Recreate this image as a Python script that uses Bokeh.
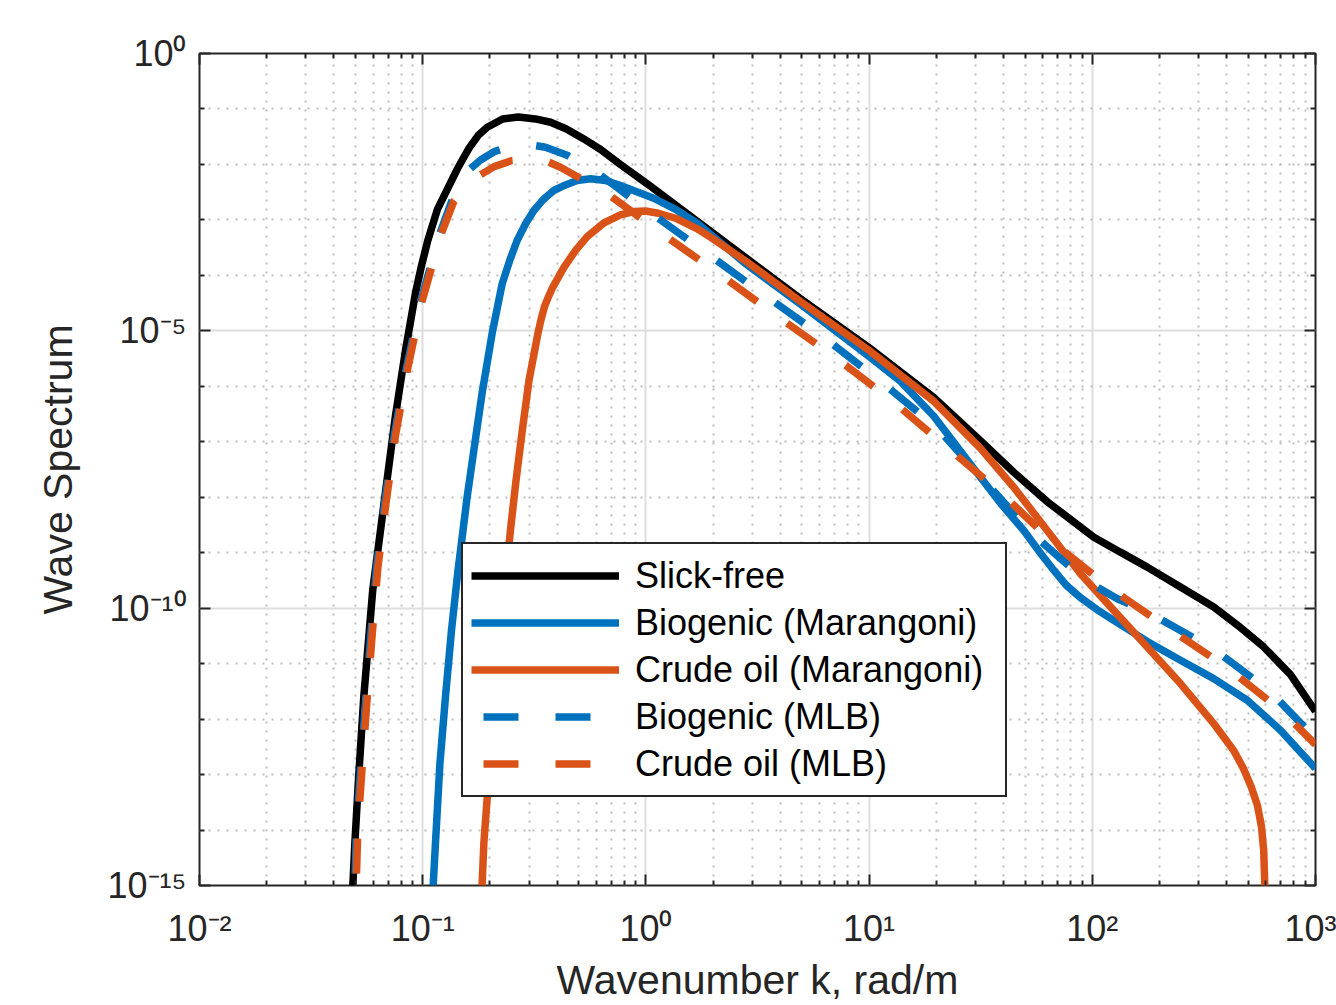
import numpy as np
from bokeh.plotting import figure
from bokeh.models import (FixedTicker, LogAxis, CustomJSTickFormatter, Legend,
                          LegendItem, Range1d)
from bokeh.embed import file_html
from bokeh.resources import INLINE

# ---- data: log10(k [rad/m]) and log10(wave spectrum) ----
slick_free_logk = [-1.313, -1.304, -1.288, -1.264, -1.224, -1.164, -1.122, -1.077,
                   -1.032, -1.005, -0.977, -0.934, -0.890, -0.842, -0.793, -0.752,
                   -0.711, -0.642, -0.571, -0.495, -0.427, -0.356, -0.278, -0.203,
                   -0.114, 0.006, 0.364, 0.693, 0.999, 1.290, 1.499, 1.648, 1.798,
                   2.007, 2.126, 2.246, 2.395, 2.544, 2.664, 2.768, 2.888, 3.0]
slick_free_logS = [-15.0, -14.24, -13.11, -11.60, -9.68, -7.82, -6.53, -5.35,
                   -4.31, -3.82, -3.37, -2.81, -2.45, -2.06, -1.71, -1.48,
                   -1.33, -1.18, -1.145, -1.18, -1.24, -1.36, -1.54, -1.73,
                   -2.00, -2.35, -3.431, -4.422, -5.30, -6.20, -6.98, -7.55, -8.08,
                   -8.72, -8.99, -9.26, -9.62, -9.98, -10.35, -10.70, -11.20, -11.86]

biogenic_mar_logk = [-0.953, -0.943, -0.923, -0.898, -0.871, -0.843, -0.801, -0.771,
                     -0.733, -0.689, -0.644, -0.61, -0.577, -0.539, -0.502, -0.459,
                     -0.413, -0.360, -0.308, -0.248, -0.181, -0.114, 0.035, 0.133,
                     0.230, 0.334, 0.450, 0.693, 0.999, 1.141, 1.290, 1.499, 1.589,
                     1.693, 1.768, 1.828, 1.884, 1.947, 2.019, 2.096, 2.246, 2.395,
                     2.544, 2.694, 2.843, 3.0]
biogenic_mar_logS = [-15.0, -14.25, -12.81, -11.60, -10.40, -9.36, -8.00, -7.157,
                     -6.10, -5.05, -4.152, -3.73, -3.371, -3.07, -2.830, -2.63,
                     -2.470, -2.37, -2.290, -2.259, -2.29, -2.38, -2.61, -2.81,
                     -3.06, -3.41, -3.80, -4.52, -5.46, -5.91, -6.54, -7.64, -8.11,
                     -8.60, -9.01, -9.32, -9.59, -9.81, -10.02, -10.22, -10.60, -10.94,
                     -11.27, -11.66, -12.20, -12.89]

crude_mar_logk = [-0.734, -0.726, -0.707, -0.689, -0.651, -0.607, -0.582, -0.554,
                  -0.524, -0.483, -0.470, -0.454, -0.436, -0.418, -0.368, -0.315,
                  -0.263, -0.190, -0.114, -0.054, -0.002, 0.056, 0.133, 0.230, 0.289,
                  0.450, 0.693, 0.999, 1.290, 1.499, 1.648, 1.798, 1.947, 2.096, 2.246,
                  2.395, 2.544, 2.634, 2.677, 2.713, 2.740, 2.758, 2.768, 2.773]
crude_mar_logS = [-15.0, -14.24, -13.20, -12.20, -10.40, -8.60, -7.70, -6.80,
                  -5.90, -5.03, -4.80, -4.56, -4.38, -4.22, -3.86, -3.55,
                  -3.30, -3.06, -2.91, -2.85, -2.84, -2.88, -2.97, -3.16, -3.31,
                  -3.75, -4.47, -5.35, -6.27, -7.12, -7.82, -8.60, -9.38, -10.04, -10.70,
                  -11.36, -12.08, -12.57, -12.89, -13.23, -13.56, -13.94, -14.37, -15.0]

biogenic_mlb_logk = [-1.304, -1.297, -1.277, -1.255, -1.232, -1.207, -1.170, -1.128,
                     -1.075, -1.012, -0.926, -0.845, -0.793, -0.741, -0.68, -0.60,
                     -0.53, -0.45, -0.35, -0.226, 0.038, 0.293, 0.551, 0.812, 1.059,
                     1.305, 1.469, 1.723, 1.969, 2.112, 2.261, 2.541, 2.791, 3.0]
biogenic_mlb_logS = [-15.0, -14.01, -12.84, -11.63, -10.46, -9.272, -8.089, -6.887,
                     -5.715, -4.513, -3.281, -2.38, -2.10, -1.92, -1.77, -1.67,
                     -1.64, -1.69, -1.84, -2.122, -2.921, -3.660, -4.411, -5.161, -5.937,
                     -6.751, -7.487, -8.63, -9.50, -9.83, -10.10, -10.73, -11.48, -12.35]

crude_mlb_logk = [-1.298, -1.291, -1.271, -1.249, -1.226, -1.201, -1.164, -1.122,
                  -1.069, -1.006, -0.920, -0.86, -0.80, -0.752, -0.68, -0.60, -0.495,
                  -0.44, -0.383, -0.177, 0.084, 0.338, 0.599, 0.857, 1.097, 1.355, 1.596,
                  1.813, 2.074, 2.332, 2.597, 2.854, 3.0]
crude_mlb_logS = [-15.0, -14.01, -12.84, -11.63, -10.46, -9.272, -8.089, -6.887,
                  -5.715, -4.513, -3.281, -2.66, -2.38, -2.214, -2.04, -1.93, -1.893,
                  -1.95, -2.05, -2.515, -3.281, -4.002, -4.768, -5.504, -6.24, -7.118, -7.938,
                  -8.78, -9.62, -10.34, -11.05, -11.87, -12.46]

series_labels = ["Slick-free", "Biogenic (Marangoni)", "Crude oil (Marangoni)",
                 "Biogenic (MLB)", "Crude oil (MLB)"]

x_major_ticks = [1e-2, 1e-1, 1e0, 1e1, 1e2, 1e3]
y_major_ticks = [1e-15, 1e-10, 1e-5, 1e0]
# -------------------------------------------------------------------------------

FONT = "Liberation Sans"
AX = "#262626"
BLUE = "#0072BD"
ORANGE = "#D95319"

x_minor_ticks = [m * 10.0 ** d for d in range(-2, 3) for m in range(2, 10)]
y_minor_ticks = [10.0 ** e for e in range(-15, 1) if e % 5 != 0]

xticker = FixedTicker(ticks=x_major_ticks, minor_ticks=x_minor_ticks)
yticker = FixedTicker(ticks=y_major_ticks, minor_ticks=y_minor_ticks)

sup_code = """
const e = Math.round(Math.log10(tick));
const sup = {"-": "\\u207b", "0": "\\u2070", "1": "\\u00b9", "2": "\\u00b2", "3": "\\u00b3",
             "4": "\\u2074", "5": "\\u2075", "6": "\\u2076", "7": "\\u2077", "8": "\\u2078",
             "9": "\\u2079"};
return "10" + String(e).split("").map(c => sup[c]).join("");
"""

p = figure(width=1336, height=1005, x_axis_type="log", y_axis_type="log",
           x_range=Range1d(1e-2, 1e3), y_range=Range1d(1e-15, 1e0),
           output_backend="svg", toolbar_location=None,
           min_border_left=199, min_border_right=21, min_border_top=53,
           min_border_bottom=120)
p.background_fill_color = "white"
p.border_fill_color = "white"
p.outline_line_color = AX
p.outline_line_width = 2
p.outline_line_alpha = 1.0


def style_axis(ax, ticker, show_labels=True):
    ax.ticker = ticker
    ax.axis_line_color = None
    ax.major_tick_in = 11
    ax.major_tick_out = 0
    ax.minor_tick_in = 5
    ax.minor_tick_out = 0
    ax.major_tick_line_color = AX
    ax.major_tick_line_width = 2
    ax.minor_tick_line_color = AX
    ax.minor_tick_line_width = 2
    if show_labels:
        ax.formatter = CustomJSTickFormatter(code=sup_code)
        ax.major_label_text_font = FONT
        ax.major_label_text_font_size = "36px"
        ax.major_label_text_color = AX
    else:
        ax.formatter = CustomJSTickFormatter(code="return '';")
        ax.major_label_text_font_size = "1px"
        ax.major_label_standoff = 0


xa = p.xaxis[0]
ya = p.yaxis[0]
style_axis(xa, xticker)
style_axis(ya, yticker)
xa.major_label_standoff = 22
ya.major_label_standoff = 13

xa.axis_label = "Wavenumber k, rad/m"
ya.axis_label = "Wave Spectrum"
for ax in (xa, ya):
    ax.axis_label_text_font = FONT
    ax.axis_label_text_font_size = "41px"
    ax.axis_label_text_font_style = "normal"
    ax.axis_label_text_color = AX
xa.axis_label_standoff = 5
ya.axis_label_standoff = 24

top_ax = LogAxis()
style_axis(top_ax, xticker, show_labels=False)
p.add_layout(top_ax, "above")
right_ax = LogAxis()
style_axis(right_ax, yticker, show_labels=False)
p.add_layout(right_ax, "right")

p.xgrid.ticker = xticker
p.ygrid.ticker = yticker
for g in (p.xgrid, p.ygrid):
    g.grid_line_color = "#dedede"
    g.grid_line_width = 2
    g.minor_grid_line_color = "#bdbdbd"
    g.minor_grid_line_width = 2
    g.minor_grid_line_dash = "2 7"


def pw(a):
    return np.power(10.0, np.array(a, dtype=float))


LW = 7.5
r0 = p.line(pw(slick_free_logk), pw(slick_free_logS), line_color="black", line_width=LW)
r1 = p.line(pw(biogenic_mar_logk), pw(biogenic_mar_logS), line_color=BLUE, line_width=LW)
r2 = p.line(pw(crude_mar_logk), pw(crude_mar_logS), line_color=ORANGE, line_width=LW)
r3 = p.line(pw(biogenic_mlb_logk), pw(biogenic_mlb_logS), line_color=BLUE, line_width=LW,
            line_dash="35 37", line_dash_offset=60)
r4 = p.line(pw(crude_mlb_logk), pw(crude_mlb_logS), line_color=ORANGE, line_width=LW,
            line_dash="35 37", line_dash_offset=60)

legend = Legend(items=[LegendItem(label=lab, renderers=[r])
                       for lab, r in zip(series_labels, [r0, r1, r2, r3, r4])],
                location=(262, 88))
legend.label_text_font = FONT
legend.label_text_font_size = "36px"
legend.label_text_color = "black"
legend.glyph_width = 148
legend.glyph_height = 47
legend.label_height = 47
legend.label_width = 362
legend.label_standoff = 16
legend.padding = 8
legend.spacing = 0
legend.margin = 0
legend.border_line_color = AX
legend.border_line_width = 2
legend.border_line_alpha = 1.0
legend.background_fill_color = "white"
legend.background_fill_alpha = 1.0
p.add_layout(legend)

open("out.html", "w").write(file_html(p, INLINE))
